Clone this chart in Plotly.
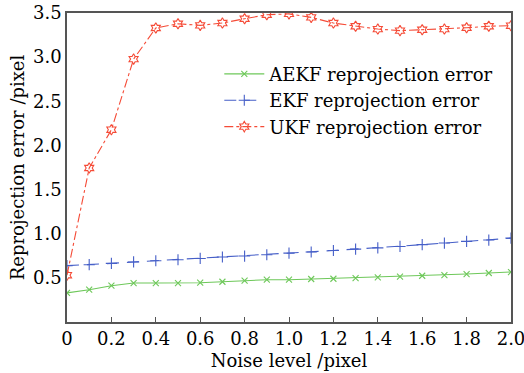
import plotly.graph_objects as go

noise = [0, 0.1, 0.2, 0.3, 0.4, 0.5, 0.6, 0.7, 0.8, 0.9, 1.0,
         1.1, 1.2, 1.3, 1.4, 1.5, 1.6, 1.7, 1.8, 1.9, 2.0]
aekf = [0.33, 0.366, 0.411, 0.441, 0.441, 0.441, 0.445, 0.456, 0.468, 0.479, 0.479,
        0.487, 0.49, 0.498, 0.505, 0.513, 0.524, 0.532, 0.543, 0.555, 0.566]
ekf = [0.638, 0.649, 0.664, 0.68, 0.694, 0.705, 0.72, 0.736, 0.747, 0.762, 0.78,
       0.793, 0.81, 0.826, 0.84, 0.856, 0.876, 0.894, 0.913, 0.928, 0.95]
ukf = [0.53, 1.744, 2.178, 2.978, 3.33, 3.378, 3.36, 3.386, 3.435, 3.48, 3.49,
       3.45, 3.386, 3.35, 3.318, 3.30, 3.31, 3.318, 3.333, 3.35, 3.356]
series_names = ["AEKF reprojection error", "EKF reprojection error", "UKF reprojection error"]
x_tickvals = [0, 0.2, 0.4, 0.6, 0.8, 1.0, 1.2, 1.4, 1.6, 1.8, 2.0]
x_ticktext = ["0", "0.2", "0.4", "0.6", "0.8", "1.0", "1.2", "1.4", "1.6", "1.8", "2.0"]
y_tickvals = [0.5, 1.0, 1.5, 2.0, 2.5, 3.0, 3.5]
y_ticktext = ["0.5", "1.0", "1.5", "2.0", "2.5", "3.0", "3.5"]

FONT = "DejaVu Serif"
green = "rgb(110,200,90)"
blue = "rgb(70,95,200)"
red = "rgb(245,75,55)"

fig = go.Figure()
fig.add_trace(go.Scatter(x=noise, y=aekf, name=series_names[0], mode="lines+markers",
                         line=dict(color=green, width=1.1),
                         marker=dict(symbol="x-thin-open", size=6, line=dict(color=green, width=1.1))))
fig.add_trace(go.Scatter(x=noise, y=ekf, name=series_names[1], mode="lines+markers",
                         line=dict(color=blue, width=1.1, dash="12px,8px"),
                         marker=dict(symbol="cross-thin-open", size=8, line=dict(color=blue, width=1.1))))
fig.add_trace(go.Scatter(x=noise, y=ukf, name=series_names[2], mode="lines+markers",
                         line=dict(color=red, width=1.1, dash="dashdot"),
                         marker=dict(symbol="hexagram-open", size=8, color=red, line=dict(color=red, width=1.1))))

fig.update_layout(
    width=524, height=373,
    margin=dict(l=67, r=13, t=13, b=51, autoexpand=False),
    paper_bgcolor="white", plot_bgcolor="white",
    font=dict(family=FONT, size=18, color="black"),
    showlegend=True,
    legend=dict(x=0.343, y=0.862, xanchor="left", yanchor="top",
                bgcolor="rgba(0,0,0,0)", borderwidth=0,
                font=dict(family=FONT, size=18), tracegroupgap=0, itemwidth=40),
)
fig.update_xaxes(range=[0, 2.0], tickvals=x_tickvals, ticktext=x_ticktext,
                 ticks="inside", ticklen=5, tickcolor="#555", automargin=False,
                 ticklabeloverflow="allow",
                 showline=True, linecolor="#555", linewidth=1.5, mirror=True,
                 showgrid=False, zeroline=False,
                 title=dict(text="Noise level /pixel", standoff=6, font=dict(size=18)))
fig.update_yaxes(range=[0, 3.5], tickvals=y_tickvals, ticktext=y_ticktext, automargin=False,
                 ticklabeloverflow="allow",
                 ticks="", showline=True, linecolor="#555", linewidth=1.5, mirror=True,
                 showgrid=False, zeroline=False,
                 title=dict(text="Reprojection error /pixel", standoff=4, font=dict(size=18)))

fig.write_html("out.html", config={"displayModeBar": False},
               post_script="document.body.style.margin='0';")
